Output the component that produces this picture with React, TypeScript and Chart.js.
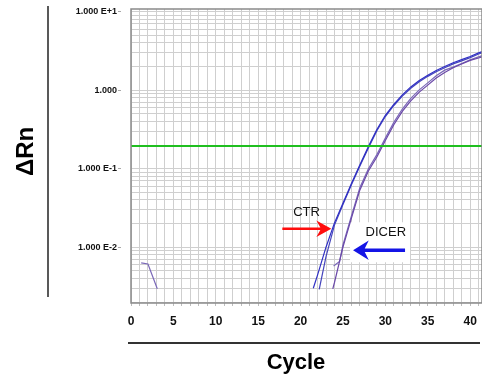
import { useEffect, useRef } from "react";
import { Chart, registerables } from "chart.js";

Chart.register(...registerables);

// ---- amplification data (ΔRn per cycle, log view) ----
const ctr1Cycles = [21.5, 22, 23, 24, 25, 26, 27, 28, 29, 30, 31, 32, 33, 34, 35, 36, 37, 38, 39, 40, 41, 42];
const ctr1Rn = [0.003, 0.0044, 0.01, 0.0204, 0.0363, 0.0646, 0.112, 0.191, 0.316, 0.479, 0.661, 0.871, 1.1, 1.33, 1.55, 1.78, 2.0, 2.24, 2.45, 2.69, 2.99, 3.24];

const ctr2Cycles = [22.2, 23, 24, 25, 26, 27, 28, 29, 30, 31, 32, 33, 34, 35, 36, 37, 38, 39, 40, 41, 42];
const ctr2Rn = [0.0029, 0.0076, 0.0191, 0.035, 0.0624, 0.108, 0.184, 0.305, 0.462, 0.638, 0.841, 1.06, 1.28, 1.5, 1.72, 1.93, 2.16, 2.36, 2.6, 2.89, 3.13];

const dicer1Cycles = [23.8, 24, 25, 26, 27, 28, 29, 30, 31, 32, 33, 34, 35, 36, 37, 38, 39, 40, 41, 42];
const dicer1Rn = [0.00295, 0.00355, 0.01, 0.0234, 0.0537, 0.0933, 0.141, 0.229, 0.363, 0.537, 0.733, 0.944, 1.16, 1.43, 1.68, 1.93, 2.16, 2.4, 2.57, 2.79];

// early cycles, then no positive signal until the rise
const dicer2Cycles = [1.2, 2, 3.1, 4, 23.9, 24.6, 25, 26, 27, 28, 29, 30, 31, 32, 33, 34, 35, 36, 37, 38, 39, 40, 41, 42];
const dicer2Rn = [0.0063, 0.0061, 0.00295, null, 0.00575, 0.0066, 0.0107, 0.0251, 0.0575, 0.1, 0.151, 0.245, 0.389, 0.575, 0.785, 1.01, 1.24, 1.53, 1.8, 1.97, 2.19, 2.43, 2.66, 2.88];

const thresholdRn = 0.1945;

// ---- axes ----
const xMin = 0;
const xMax = 41.4;
const xLabelStep = 5;
const yMin = 0.001945;
const yMax = 10.82;
const yLabelValues = [10, 1, 0.1, 0.01];
const yLabelTexts = ["1.000 E+1", "1.000", "1.000 E-1", "1.000 E-2"];

// ---- annotation anchors (cycle, ΔRn) ----
const ctrArrowTip = [23.63, 0.0172];
const dicerArrowTip = [26.19, 0.00914];

const FONT = '"Liberation Sans", Arial, Helvetica, sans-serif';

const isDecade = (v: number) => Math.abs(Math.log10(v) - Math.round(Math.log10(v))) < 1e-6;
const labelFor = (v: number) => {
  const i = yLabelValues.findIndex((d) => Math.abs(d - v) / d < 1e-6);
  return i >= 0 ? yLabelTexts[i] : "";
};

const toPoints = (xs: number[], ys: (number | null)[]) => xs.map((x, i) => ({ x, y: ys[i] }));

function arrow(ctx: CanvasRenderingContext2D, tipX: number, tipY: number, dir: number, shaftLen: number, shaftW: number, headLen: number, headHalf: number, color: string) {
  // dir = +1 points right, -1 points left
  ctx.save();
  ctx.fillStyle = color;
  const notch = headLen - 4;
  ctx.beginPath();
  ctx.moveTo(tipX, tipY);
  ctx.lineTo(tipX - dir * headLen, tipY - headHalf);
  ctx.lineTo(tipX - dir * notch, tipY - shaftW / 2);
  ctx.lineTo(tipX - dir * shaftLen, tipY - shaftW / 2);
  ctx.lineTo(tipX - dir * shaftLen, tipY + shaftW / 2);
  ctx.lineTo(tipX - dir * notch, tipY + shaftW / 2);
  ctx.lineTo(tipX - dir * headLen, tipY + headHalf);
  ctx.closePath();
  ctx.fill();
  ctx.restore();
}

const decorPlugin = {
  id: "qpcrDecor",
  beforeDatasetsDraw(chart: any) {
    const { ctx, scales } = chart;
    const tx = scales.x.getPixelForValue(dicerArrowTip[0]);
    const ty = scales.y.getPixelForValue(dicerArrowTip[1]);
    ctx.save();
    ctx.fillStyle = "#ffffff";
    ctx.fillRect(tx - 3, ty - 28, 60, 40);
    ctx.restore();
  },
  afterDraw(chart: any) {
    const { ctx, chartArea, scales } = chart;
    ctx.save();
    // plot frame
    ctx.strokeStyle = "#8a8a8a";
    ctx.lineWidth = 1.5;
    ctx.strokeRect(chartArea.left, chartArea.top, chartArea.right - chartArea.left, chartArea.bottom - chartArea.top);

    // arrows and labels
    const cx = scales.x.getPixelForValue(ctrArrowTip[0]);
    const cy = scales.y.getPixelForValue(ctrArrowTip[1]);
    arrow(ctx, cx, cy, 1, 49, 2.6, 15, 8.3, "#ff0d0d");
    const dx = scales.x.getPixelForValue(dicerArrowTip[0]);
    const dy = scales.y.getPixelForValue(dicerArrowTip[1]);
    arrow(ctx, dx, dy, -1, 52, 3.6, 15.7, 9.7, "#1414e6");

    ctx.fillStyle = "#111111";
    ctx.font = `13px ${FONT}`;
    ctx.textAlign = "center";
    ctx.textBaseline = "alphabetic";
    ctx.fillText("CTR", cx - 24.8, cy - 12.4);
    ctx.fillText("DICER", dx + 32.8, dy - 14);

    // axis titles and rules
    ctx.fillStyle = "#000000";
    ctx.font = `bold 24px ${FONT}`;
    ctx.save();
    ctx.translate(33, 151.5);
    ctx.rotate(-Math.PI / 2);
    ctx.textAlign = "center";
    ctx.fillText("ΔRn", 0, 0);
    ctx.restore();

    ctx.font = `bold 22px ${FONT}`;
    ctx.textAlign = "center";
    ctx.fillText("Cycle", 296, 369);

    ctx.strokeStyle = "#222222";
    ctx.lineWidth = 1.5;
    ctx.beginPath();
    ctx.moveTo(48, 6);
    ctx.lineTo(48, 297);
    ctx.stroke();
    ctx.strokeStyle = "#333333";
    ctx.lineWidth = 2;
    ctx.beginPath();
    ctx.moveTo(128, 343);
    ctx.lineTo(480, 343);
    ctx.stroke();
    ctx.restore();
  },
};

export default function App() {
  const canvasRef = useRef<HTMLCanvasElement | null>(null);

  useEffect(() => {
    const canvas = canvasRef.current;
    if (!canvas) return;

    const line = (data: any[], color: string) => ({
      data,
      borderColor: color,
      borderWidth: 1.2,
      pointRadius: 0,
      fill: false,
      tension: 0,
      spanGaps: false,
    });

    const chart = new Chart(canvas, {
      type: "line",
      data: {
        datasets: [
          {
            data: [
              { x: xMin, y: thresholdRn },
              { x: 42, y: thresholdRn },
            ],
            borderColor: "#1fbf1f",
            borderWidth: 2,
            pointRadius: 0,
          },
          line(toPoints(ctr1Cycles, ctr1Rn), "#2f2fc4"),
          line(toPoints(ctr2Cycles, ctr2Rn), "#4545bc"),
          line(toPoints(dicer1Cycles, dicer1Rn), "#6a48a8"),
          line(toPoints(dicer2Cycles, dicer2Rn), "#7a68b8"),
        ] as any,
      },
      plugins: [decorPlugin],
      options: {
        animation: false,
        responsive: false,
        devicePixelRatio: 1,
        layout: { padding: { left: 0, right: 0, top: 9, bottom: 0 } },
        plugins: { legend: { display: false }, tooltip: { enabled: false } },
        scales: {
          x: {
            type: "linear",
            min: xMin,
            max: xMax,
            afterBuildTicks: (scale: any) => {
              const t = [];
              for (let c = 0; c <= Math.floor(xMax); c++) t.push({ value: c });
              scale.ticks = t;
            },
            afterFit: (scale: any) => {
              scale.height = 83;
              scale.paddingLeft = 0;
              scale.paddingRight = 0;
            },
            ticks: {
              autoSkip: false,
              maxRotation: 0,
              padding: 8,
              color: "#111111",
              font: { family: FONT, size: 12, weight: "bold" },
              callback: (v: any) => (Number(v) % xLabelStep === 0 ? String(v) : ""),
            },
            grid: { color: "#cfcfcf", lineWidth: 1, tickLength: 3, tickColor: "#bdbdbd" },
            border: { display: false },
          },
          y: {
            type: "logarithmic",
            min: yMin,
            max: yMax,
            afterBuildTicks: (scale: any) => {
              const t = [];
              for (let e = -3; e <= 1; e++) {
                for (let s = 1; s <= 9; s++) {
                  const v = s * Math.pow(10, e);
                  if (v >= yMin && v <= yMax) t.push({ value: v });
                }
              }
              scale.ticks = t;
            },
            afterFit: (scale: any) => {
              scale.width = 131;
              scale.paddingTop = 0;
              scale.paddingBottom = 0;
            },
            ticks: {
              autoSkip: false,
              padding: 1,
              color: "#111111",
              font: { family: FONT, size: 9, weight: "bold" },
              callback: (v: any) => labelFor(Number(v)),
            },
            grid: {
              color: "#cfcfcf",
              lineWidth: 1,
              tickLength: 13,
              tickBorderDash: [3, 30],
              tickColor: (ctx: any) => (ctx.tick && isDecade(ctx.tick.value) ? "#a8a8a8" : "rgba(0,0,0,0)"),
            },
            border: { display: false },
          },
        },
      } as any,
    });

    return () => chart.destroy();
  }, []);

  return (
    <div style={{ position: "fixed", left: 0, top: 0, width: 482, height: 386, background: "#ffffff" }}>
      <canvas ref={canvasRef} width={482} height={386} style={{ display: "block" }} />
    </div>
  );
}
